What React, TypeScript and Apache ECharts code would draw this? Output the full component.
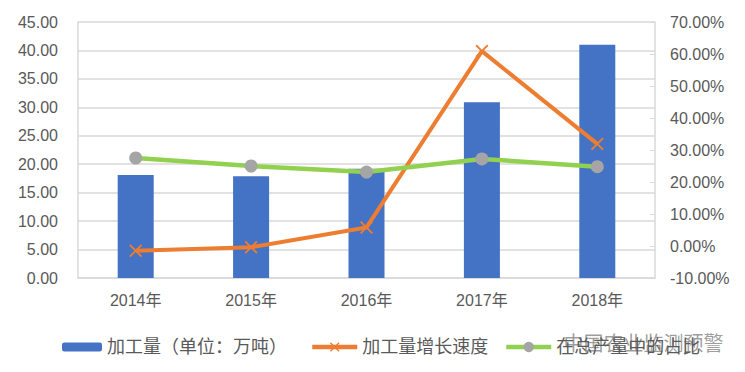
import React, { useEffect, useRef } from "react";
import * as echarts from "echarts";

const categories = ["2014年", "2015年", "2016年", "2017年", "2018年"];
const output = [18.1, 17.9, 19.2, 30.9, 41.0];
const growth = [-1.5, -0.4, 5.8, 60.9, 31.9];
const share = [27.5, 25.0, 23.1, 27.2, 24.8];
const seriesNames = ["加工量（单位：万吨）", "加工量增长速度", "在总产量中的占比"];

export default function App() {
  const ref = useRef<HTMLDivElement>(null);
  useEffect(() => {
    const chart = echarts.init(ref.current!, null, { renderer: "svg" });
    const font = "'Liberation Sans', Arial, 'Noto Sans CJK SC', sans-serif";
    const legendText = { fontSize: 18, color: "#595959", fontFamily: font };
    chart.setOption({
      animation: false,
      textStyle: { fontFamily: font },
      grid: { left: 78, right: 90, top: 22, bottom: 94 },
      legend: [
        {
          left: 57,
          top: 333,
          itemWidth: 40,
          itemHeight: 9,
          textStyle: legendText,
          data: [seriesNames[0]],
        },
        {
          left: 305,
          top: 333,
          itemWidth: 45,
          itemHeight: 12,
          textStyle: legendText,
          lineStyle: { width: 4.5 },
          data: [seriesNames[1]],
        },
        {
          left: 499,
          top: 333,
          itemWidth: 45,
          itemHeight: 13,
          textStyle: legendText,
          lineStyle: { width: 4.5 },
          data: [seriesNames[2]],
        },
      ],
      xAxis: {
        type: "category",
        data: categories,
        axisLine: { lineStyle: { color: "#d9d9d9", width: 1.5 } },
        axisTick: { show: false },
        axisLabel: { fontSize: 16, color: "#595959", margin: 14 },
      },
      yAxis: [
        {
          type: "value",
          min: 0,
          max: 45,
          interval: 5,
          axisLine: { show: true, lineStyle: { color: "#d9d9d9", width: 1.5 } },
          axisLabel: { fontSize: 16, color: "#595959", margin: 20, formatter: (v: number) => v.toFixed(2) },
          splitLine: { lineStyle: { color: "#d9d9d9", width: 1.5 } },
        },
        {
          type: "value",
          min: -10,
          max: 70,
          interval: 10,
          axisLine: { show: true, lineStyle: { color: "#d9d9d9", width: 1.5 } },
          axisTick: { show: true, inside: true, length: 5, lineStyle: { color: "#d9d9d9" } },
          axisLabel: { fontSize: 16, color: "#595959", margin: 15, formatter: (v: number) => v.toFixed(2) + "%" },
          splitLine: { show: false },
        },
      ],
      series: [
        {
          name: seriesNames[0],
          type: "bar",
          data: output,
          barWidth: 36,
          itemStyle: { color: "#4472c4" },
        },
        {
          name: seriesNames[1],
          type: "line",
          yAxisIndex: 1,
          data: growth,
          lineStyle: { color: "#ed7d31", width: 4 },
          itemStyle: { color: "#ed7d31" },
          symbol: "path://M0,1L1,0L5,4L9,0L10,1L6,5L10,9L9,10L5,6L1,10L0,9L4,5Z",
          symbolSize: 13,
        },
        {
          name: seriesNames[2],
          type: "line",
          yAxisIndex: 1,
          data: share,
          lineStyle: { color: "#92d050", width: 4.5 },
          itemStyle: { color: "#a5a5a5" },
          symbol: "circle",
          symbolSize: 13,
        },
      ],
      graphic: [
        {
          type: "text",
          left: 563,
          top: 333,
          style: {
            text: "中国农业监测预警",
            fontSize: 20,
            fill: "rgba(90,90,90,0.6)",
            stroke: "#ffffff",
            lineWidth: 1,
            fontFamily: font,
          },
        },
      ],
    });
    return () => chart.dispose();
  }, []);
  return <div ref={ref} style={{ width: 745, height: 372, margin: -8 }} />;
}
